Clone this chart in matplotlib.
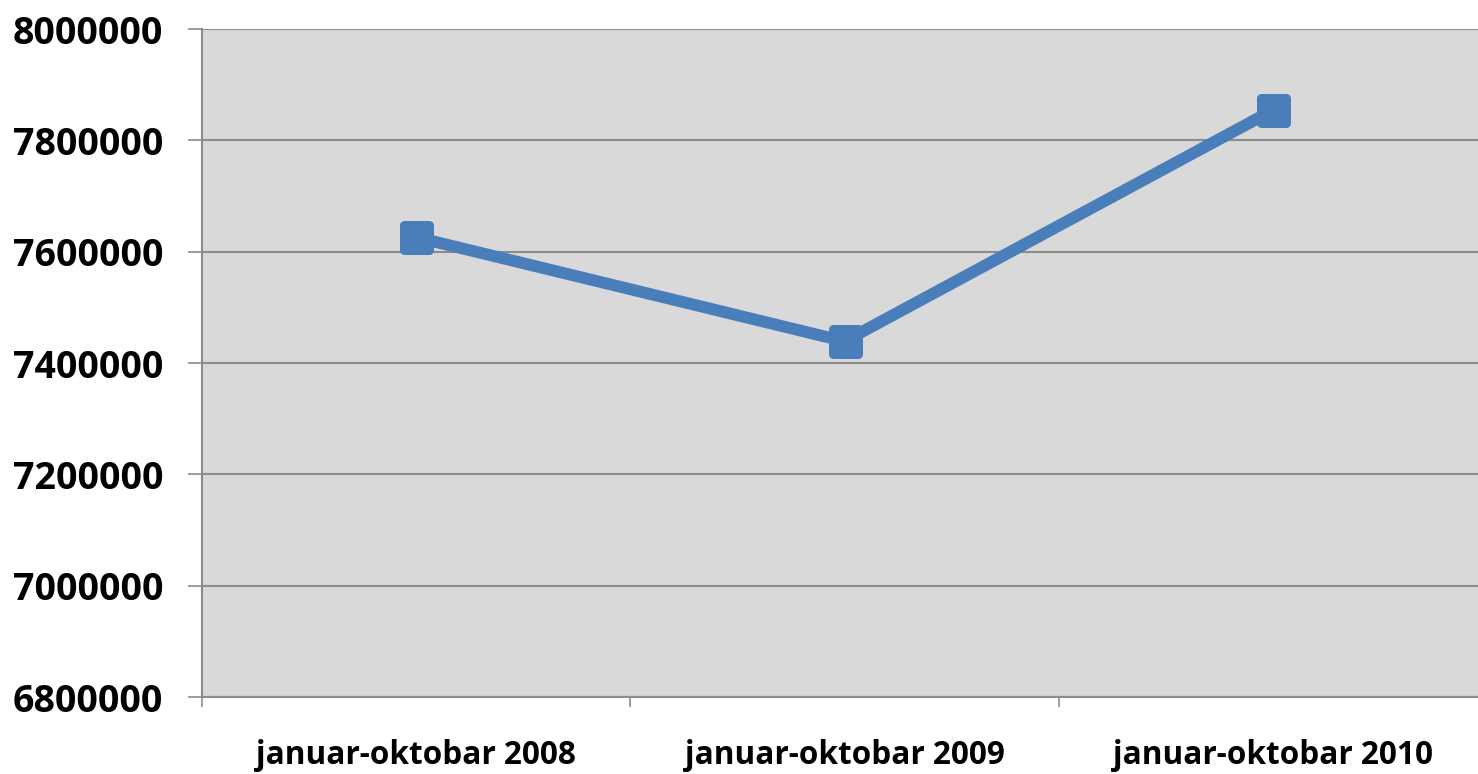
import numpy as np
import matplotlib.pyplot as plt
from matplotlib.markers import MarkerStyle

# data
categories = ["januar-oktobar 2008", "januar-oktobar 2009", "januar-oktobar 2010"]
values = [7626000, 7439000, 7854000]
y_ticks = [6800000, 7000000, 7200000, 7400000, 7600000, 7800000, 8000000]

LINE_COLOR = "#4A7EBB"
GRID_COLOR = "#8C8C8C"
BG_COLOR = "#D9D9D9"

plt.rcParams['font.family'] = ['Open Sans', 'DejaVu Sans']

W, H = 1478, 774
fig = plt.figure(figsize=(W / 100, H / 100), dpi=100)
# plot area in pixels: x 202..1487, y 29..697
ax = fig.add_axes([202 / W, 1 - 697 / H, (1487 - 202) / W, (697 - 29) / H])
ax.set_facecolor(BG_COLOR)

x = np.arange(len(categories))
ax.plot(x, values, color=LINE_COLOR, lw=8.5, solid_capstyle='round',
        solid_joinstyle='round', zorder=3,
        marker=MarkerStyle('s', joinstyle='round'), markersize=18,
        markeredgewidth=6.5, markerfacecolor=LINE_COLOR,
        markeredgecolor=LINE_COLOR)

ax.set_xlim(-0.5, len(categories) - 0.5)
ax.set_ylim(y_ticks[0], y_ticks[-1])
ax.set_yticks(y_ticks)
ax.set_yticklabels([str(v) for v in y_ticks], fontsize=27, fontweight='bold')
ax.yaxis.grid(True, color=GRID_COLOR, lw=1.5)
ax.set_axisbelow(True)

# category boundaries as major ticks, labels on minor ticks
ax.set_xticks(np.arange(-0.5, len(categories)))
ax.set_xticklabels([])
ax.set_xticks(x, minor=True)
ax.set_xticklabels(categories, minor=True, fontsize=22.7, fontweight='bold')
ax.tick_params(axis='x', which='major', length=7, width=1.2, color=GRID_COLOR)
ax.tick_params(axis='x', which='minor', length=0, pad=30)
ax.tick_params(axis='y', length=10, width=1.2, color=GRID_COLOR, pad=18)

for side in ['top', 'right']:
    ax.spines[side].set_visible(False)
for side in ['left', 'bottom']:
    ax.spines[side].set_color(GRID_COLOR)
    ax.spines[side].set_linewidth(1.5)

fig.savefig("out.png", dpi=100)
